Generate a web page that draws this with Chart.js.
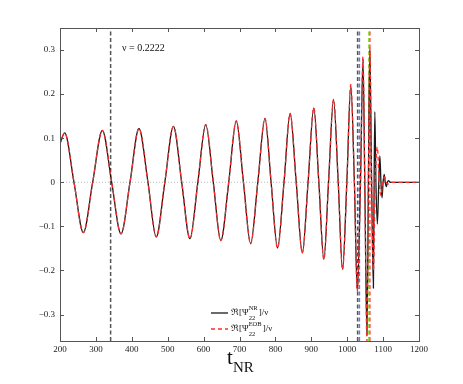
<!DOCTYPE html>
<html>
<head>
<meta charset="utf-8">
<script src="https://cdn.jsdelivr.net/npm/chart.js@4/dist/chart.umd.min.js"></script>
<style>
    html, body { margin: 0; padding: 0; background: #fff; }
    #wrap { width: 463px; height: 384px; }
</style>
</head>
<body>
<div id="wrap"><canvas id="chart" width="463" height="384"></canvas></div>
<script>
// NR waveform: maxima, minima and zero crossings
const nrTime  = [200, 213, 239, 265, 291, 318, 344, 370, 395, 420, 445, 468, 492, 516, 539, 562, 584, 606, 627, 648, 670, 691, 711, 731, 751, 771, 788, 806, 824, 841, 858, 875, 891, 907, 921, 935, 948, 962, 975, 987, 999, 1010, 1020, 1028, 1037, 1044, 1049, 1055, 1059, 1063, 1068, 1073, 1075, 1077, 1080, 1084, 1088, 1091, 1094, 1097, 1100, 1103, 1106, 1109, 1112, 1115, 1120, 1200];
const nrValue = [0.088, 0.112, 0, -0.114, 0, 0.118, 0, -0.117, 0, 0.122, 0, -0.124, 0, 0.127, 0, -0.128, 0, 0.131, 0, -0.132, 0, 0.139, 0, -0.139, 0, 0.145, 0, -0.149, 0, 0.156, 0, -0.160, 0, 0.169, 0, -0.175, 0, 0.188, 0, -0.198, 0, 0.220, 0, -0.245, 0, 0.280, 0, -0.345, 0, 0.300, 0, -0.240, 0, 0.160, 0, -0.095, 0, 0.060, 0, -0.035, 0, 0.018, 0, -0.010, 0, 0.004, 0, 0];

// EOB waveform
const eobTime  = [200, 213, 239, 265, 291, 318, 344, 370, 395, 420, 445, 468, 492, 516, 539, 562, 584, 606, 627, 648, 670, 691, 711, 731, 751, 771, 788, 806, 824, 841, 858, 875, 891, 907, 921, 935, 948, 962, 975, 987, 999, 1010, 1020, 1028, 1037, 1044, 1049, 1055, 1059, 1063, 1068, 1073, 1078, 1084, 1089, 1094, 1099, 1104, 1109, 1114, 1120, 1200];
const eobValue = [0.088, 0.112, 0, -0.114, 0, 0.118, 0, -0.117, 0, 0.122, 0, -0.124, 0, 0.127, 0, -0.128, 0, 0.131, 0, -0.132, 0, 0.139, 0, -0.139, 0, 0.145, 0, -0.149, 0, 0.156, 0, -0.160, 0, 0.169, 0, -0.175, 0, 0.188, 0, -0.198, 0, 0.222, 0, -0.248, 0, 0.285, 0, -0.360, 0, 0.305, 0, -0.200, 0, 0.080, 0, -0.030, 0, 0.012, 0, -0.004, 0, 0];

// vertical marker lines
const markerTimes  = [341, 1029, 1034, 1060, 1063];
const markerColors = ['#555555', '#555555', '#6677ee', '#99dd44', '#ff3333'];

const xTicks = [200, 300, 400, 500, 600, 700, 800, 900, 1000, 1100, 1200];
const yTicks = [-0.3, -0.2, -0.1, 0, 0.1, 0.2, 0.3];

const Y_MIN = -0.36;
const Y_MAX = 0.35;
const SERIF = '"Liberation Serif", "DejaVu Serif", serif';

function toPoints(ts, vs) {
    return ts.map((t, i) => ({ x: t, y: vs[i] }));
}

const datasets = [
    {
        label: 'EOB',
        data: toPoints(eobTime, eobValue),
        borderColor: '#ff2b2b',
        borderWidth: 1.3,
        borderDash: [4, 3],
        pointRadius: 0,
        cubicInterpolationMode: 'monotone',
        order: 0
    },
    {
        label: 'NR',
        data: toPoints(nrTime, nrValue),
        borderColor: '#1a1a1a',
        borderWidth: 1.3,
        pointRadius: 0,
        cubicInterpolationMode: 'monotone',
        order: 1
    }
];

markerTimes.forEach((t, i) => {
    datasets.push({
        label: 'marker' + i,
        data: [{ x: t, y: Y_MIN }, { x: t, y: Y_MAX }],
        borderColor: markerColors[i],
        borderWidth: 1.5,
        borderDash: [4, 2.5],
        pointRadius: 0,
        order: 2
    });
});

// frame, inward ticks, zero line, labels, legend
const decorations = {
    id: 'decorations',
    beforeDatasetsDraw(chart) {
        const { ctx, chartArea: a, scales } = chart;
        const y0 = scales.y.getPixelForValue(0);
        ctx.save();
        ctx.strokeStyle = '#bbbbbb';
        ctx.lineWidth = 1;
        ctx.setLineDash([1, 2]);
        ctx.beginPath();
        ctx.moveTo(a.left, y0);
        ctx.lineTo(a.right, y0);
        ctx.stroke();
        ctx.restore();
    },
    afterDraw(chart) {
        const { ctx, chartArea: a, scales } = chart;
        ctx.save();

        // box
        ctx.strokeStyle = '#555555';
        ctx.lineWidth = 1;
        ctx.strokeRect(a.left + 0.5, a.top + 0.5, a.right - a.left, a.bottom - a.top);

        // inward ticks
        ctx.beginPath();
        xTicks.forEach(v => {
            const px = Math.round(scales.x.getPixelForValue(v)) + 0.5;
            ctx.moveTo(px, a.top); ctx.lineTo(px, a.top + 4);
            ctx.moveTo(px, a.bottom); ctx.lineTo(px, a.bottom - 4);
        });
        yTicks.forEach(v => {
            const py = Math.round(scales.y.getPixelForValue(v)) + 0.5;
            ctx.moveTo(a.left, py); ctx.lineTo(a.left + 4, py);
            ctx.moveTo(a.right, py); ctx.lineTo(a.right - 4, py);
        });
        ctx.stroke();

        ctx.fillStyle = '#111111';

        // mass ratio note
        ctx.font = '10px ' + SERIF;
        ctx.textAlign = 'left';
        ctx.textBaseline = 'middle';
        ctx.fillText('\u03bd = 0.2222', 122, 48);

        // x axis title
        ctx.textBaseline = 'alphabetic';
        ctx.font = '21px ' + SERIF;
        ctx.fillText('t', 227, 364);
        ctx.font = '15px ' + SERIF;
        ctx.fillText('NR', 233, 372);

        // legend
        const rows = [
            { y: 313, sup: 'NR', color: '#1a1a1a', dash: [] },
            { y: 329, sup: 'EOB', color: '#ff2b2b', dash: [4, 3] }
        ];
        rows.forEach(r => {
            ctx.strokeStyle = r.color;
            ctx.lineWidth = 1.3;
            ctx.setLineDash(r.dash);
            ctx.beginPath();
            ctx.moveTo(211, r.y);
            ctx.lineTo(228, r.y);
            ctx.stroke();
            ctx.setLineDash([]);

            let x = 231;
            ctx.font = '9px ' + SERIF;
            ctx.textBaseline = 'middle';
            const head = '\u211c[\u03a8';
            ctx.fillText(head, x, r.y);
            x += ctx.measureText(head).width;
            ctx.font = '6.5px ' + SERIF;
            ctx.fillText(r.sup, x, r.y - 5);
            ctx.fillText('22', x, r.y + 5);
            x += Math.max(ctx.measureText(r.sup).width, ctx.measureText('22').width) + 1;
            ctx.font = '9px ' + SERIF;
            ctx.fillText(']/\u03bd', x, r.y);
        });

        ctx.restore();
    }
};

new Chart(document.getElementById('chart').getContext('2d'), {
    type: 'line',
    data: { datasets: datasets },
    options: {
        responsive: false,
        animation: false,
        devicePixelRatio: 1,
        layout: { padding: { left: 0, right: 44, top: 28, bottom: 0 } },
        plugins: {
            legend: { display: false },
            tooltip: { enabled: false }
        },
        scales: {
            x: {
                type: 'linear',
                min: 200,
                max: 1200,
                grid: { display: false, drawTicks: false },
                border: { display: false },
                afterBuildTicks: scale => { scale.ticks = xTicks.map(v => ({ value: v })); },
                afterFit: scale => { scale.height = 43; },
                ticks: {
                    color: '#222222',
                    font: { family: SERIF, size: 9 },
                    padding: 3,
                    maxRotation: 0,
                    callback: v => String(v)
                }
            },
            y: {
                type: 'linear',
                min: Y_MIN,
                max: Y_MAX,
                grid: { display: false, drawTicks: false },
                border: { display: false },
                afterBuildTicks: scale => { scale.ticks = yTicks.map(v => ({ value: v })); },
                afterFit: scale => { scale.width = 60; },
                ticks: {
                    color: '#222222',
                    font: { family: SERIF, size: 9 },
                    padding: 5,
                    callback: v => {
                        if (Math.abs(v) < 1e-9) return '0';
                        return (v < 0 ? '\u2212' : '') + Math.abs(v).toFixed(1);
                    }
                }
            }
        }
    },
    plugins: [decorations]
});
</script>
</body>
</html>
